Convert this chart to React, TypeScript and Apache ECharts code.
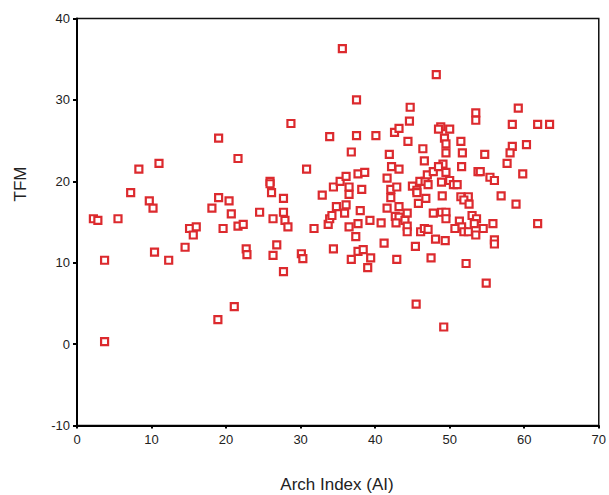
import React, { useEffect, useRef } from "react";
import * as echarts from "echarts";

const xTicks = [0, 10, 20, 30, 40, 50, 60, 70];
const yTicks = [-10, 0, 10, 20, 30, 40];
const xTitle = "Arch Index (AI)";
const yTitle = "TFM";

const archIndex = [
  2.2, 2.8, 5.5, 3.7, 3.7, 7.2, 8.3, 11.0, 9.7, 10.2,
  10.4, 12.3, 14.5, 15.1, 16.0, 15.6, 18.1, 19.0, 20.4, 20.7,
  19.6, 21.6, 22.3, 22.7, 22.8, 19.0, 21.6, 21.1, 18.9, 24.5,
  25.9, 25.9, 26.1, 26.3, 27.7, 27.7, 27.9, 28.3, 26.8, 26.3,
  27.7, 28.7, 30.1, 30.3, 30.8, 31.8, 32.9, 33.7, 33.9, 34.2,
  34.8, 34.4, 33.9, 35.6, 34.4, 35.3, 36.1, 36.5, 36.5, 36.1,
  35.9, 36.8, 37.5, 37.5, 37.7, 38.6, 38.2, 38.0, 36.5, 37.7,
  39.3, 40.8, 37.4, 37.7, 38.4, 36.8, 39.4, 39.0, 40.1, 41.2,
  42.9, 41.6, 41.9, 42.2, 43.2, 42.1, 42.9, 42.1, 41.6, 43.2,
  42.7, 43.2, 42.8, 42.6, 43.2, 44.4, 44.7, 44.6, 44.3, 44.0,
  44.3, 44.3, 45.0, 45.6, 45.6, 46.0, 46.7, 47.1, 46.8, 45.8,
  45.4, 46.1, 46.6, 47.1, 45.5, 46.4, 46.6, 47.0, 47.8, 47.8,
  47.5, 48.1, 48.2, 48.8, 48.5, 50.0, 49.3, 49.5, 49.5, 51.5,
  51.7, 51.6, 49.1, 48.5, 49.5, 48.9, 50.0, 50.5, 51.0, 49.0,
  48.9, 49.5, 49.5, 49.4, 49.2, 51.5, 52.5, 51.9, 52.6, 51.3,
  51.6, 50.7, 51.9, 52.5, 53.0, 53.6, 53.3, 53.5, 52.2, 53.5,
  53.5, 53.8, 54.1, 54.7, 55.4, 56.0, 56.9, 55.8, 54.5, 56.0,
  56.0, 54.9, 57.7, 58.4, 59.2, 58.4, 58.1, 60.3, 59.8, 58.9,
  61.8, 63.4, 61.8
];

const tfm = [
  15.4, 15.2, 15.4, 10.3, 0.3, 18.6, 21.5, 22.2, 17.6, 16.7,
  11.3, 10.3, 11.9, 14.2, 14.4, 13.4, 16.7, 18.0, 17.6, 16.0,
  14.2, 14.5, 14.7, 11.7, 11.0, 25.3, 22.8, 4.6, 3.0, 16.2,
  20.0, 19.7, 18.6, 15.4, 17.9, 16.2, 15.2, 14.4, 12.2, 10.9,
  8.9, 27.1, 11.1, 10.5, 21.5, 14.2, 18.3, 14.7, 15.4, 15.8,
  16.9, 11.7, 25.5, 36.3, 19.3, 20.0, 20.6, 19.3, 18.4, 17.1,
  16.1, 23.6, 30.0, 25.6, 20.9, 21.1, 19.0, 16.4, 14.4, 14.8,
  15.2, 14.9, 13.2, 11.4, 11.6, 10.4, 10.6, 9.4, 25.6, 12.4,
  10.4, 20.4, 23.3, 21.8, 21.5, 19.0, 19.3, 18.0, 16.7, 16.9,
  15.7, 15.6, 14.9, 26.0, 26.5, 24.9, 29.1, 27.4, 16.1, 15.2,
  14.5, 13.8, 19.4, 18.9, 18.6, 20.0, 20.0, 19.6, 17.9, 17.3,
  12.0, 13.8, 14.2, 14.1, 4.9, 24.0, 22.5, 20.8, 21.2, 16.1,
  10.6, 12.9, 33.1, 26.7, 26.4, 26.4, 25.3, 24.6, 23.5, 24.9,
  23.5, 21.8, 22.1, 21.8, 21.1, 19.9, 20.1, 19.6, 19.6, 18.2,
  16.2, 16.2, 15.4, 12.7, 2.1, 18.1, 18.1, 17.7, 17.2, 15.1,
  14.4, 14.2, 13.8, 13.8, 15.8, 15.4, 14.8, 13.4, 9.9, 28.4,
  27.5, 21.2, 21.2, 23.3, 20.5, 20.1, 18.2, 14.8, 14.2, 12.8,
  12.3, 7.5, 22.2, 27.0, 29.0, 24.3, 23.5, 24.5, 20.9, 17.2,
  27.0, 27.0, 14.8
];

export default function App() {
  const ref = useRef<HTMLDivElement>(null);
  useEffect(() => {
    if (!ref.current) return;
    const chart = echarts.init(ref.current, undefined, { renderer: "svg" });
    const data = archIndex.map((x, i) => [x, tfm[i]]);
    const font = "'Liberation Sans', Arial, sans-serif";
    chart.setOption({
      animation: false,
      backgroundColor: "#ffffff",
      grid: {
        left: 77,
        right: 10,
        top: 18.5,
        bottom: 69.5,
        show: true,
        borderColor: "#111",
        borderWidth: 1.5,
        backgroundColor: "transparent",
      },
      xAxis: {
        type: "value",
        min: xTicks[0],
        max: xTicks[xTicks.length - 1],
        interval: 10,
        axisLine: { show: true, onZero: false, lineStyle: { color: "#000", width: 2 } },
        axisTick: { show: true, length: 3, lineStyle: { color: "#000", width: 2 } },
        splitLine: { show: false },
        axisLabel: { color: "#222", fontSize: 13, fontFamily: font, margin: 7 },
      },
      yAxis: {
        type: "value",
        min: yTicks[0],
        max: yTicks[yTicks.length - 1],
        interval: 10,
        axisLine: { show: true, onZero: false, lineStyle: { color: "#000", width: 2 } },
        axisTick: { show: true, length: 4, lineStyle: { color: "#000", width: 2 } },
        splitLine: { show: false },
        axisLabel: { color: "#222", fontSize: 13, fontFamily: font, margin: 7 },
      },
      graphic: [
        {
          type: "text",
          x: 337,
          y: 484,
          style: {
            text: xTitle,
            fontSize: 17,
            fontFamily: font,
            fill: "#222",
            textAlign: "center",
            textVerticalAlign: "middle",
          },
        },
        {
          type: "text",
          x: 20,
          y: 184,
          rotation: Math.PI / 2,
          style: {
            text: yTitle,
            fontSize: 17,
            fontFamily: font,
            fill: "#222",
            textAlign: "center",
            textVerticalAlign: "middle",
          },
        },
      ],
      series: [
        {
          type: "scatter",
          data,
          symbol: "rect",
          symbolSize: 7,
          itemStyle: { color: "#ffffff", borderColor: "#dc2a2e", borderWidth: 2.2, opacity: 1 },
        },
      ],
    });
    return () => chart.dispose();
  }, []);
  return (
    <div
      ref={ref}
      style={{ position: "fixed", left: 0, top: 0, width: 609, height: 495 }}
    />
  );
}
